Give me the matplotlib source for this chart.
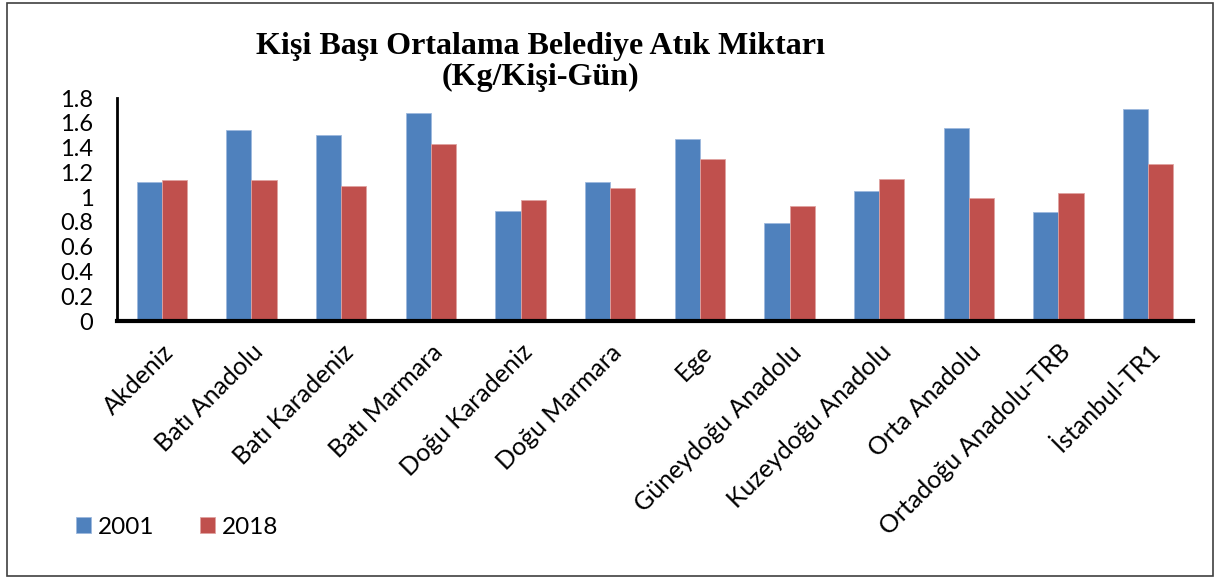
import matplotlib
matplotlib.use("Agg")
import matplotlib.pyplot as plt
import numpy as np
from matplotlib.patches import Rectangle

categories = ["Akdeniz", "Batı Anadolu", "Batı Karadeniz", "Batı Marmara",
              "Doğu Karadeniz", "Doğu Marmara", "Ege", "Güneydoğu Anadolu",
              "Kuzeydoğu Anadolu", "Orta Anadolu", "Ortadoğu Anadolu-TRB",
              "İstanbul-TR1"]
values_2001 = [1.12, 1.54, 1.50, 1.68, 0.89, 1.12, 1.47, 0.79, 1.05, 1.555, 0.88, 1.71]
values_2018 = [1.14, 1.14, 1.09, 1.43, 0.98, 1.07, 1.31, 0.93, 1.15, 0.99, 1.03, 1.27]
series_labels = ["2001", "2018"]
yticks = [0, 0.2, 0.4, 0.6, 0.8, 1, 1.2, 1.4, 1.6, 1.8]
ytick_labels = ["0", "0.2", "0.4", "0.6", "0.8", "1", "1.2", "1.4", "1.6", "1.8"]
title = "Kişi Başı Ortalama Belediye Atık Miktarı\n(Kg/Kişi-Gün)"

W, H = 1217, 579
fig = plt.figure(figsize=(W / 100, H / 100), dpi=100)
fig.patch.set_facecolor("white")

# outer frame
fig.add_artist(Rectangle((7 / W, 3 / H), (1213 - 7) / W, (576 - 3) / H,
                         transform=fig.transFigure, fill=False,
                         edgecolor="#404040", linewidth=1.2))

ax = fig.add_axes([117 / W, (H - 321) / H, (1193 - 117) / W, (321 - 98) / H])
x = np.arange(len(categories))
bw = 0.282
c1, c2 = "#4F81BD", "#C0504D"
ax.bar(x - bw / 2, values_2001, bw, color=c1, edgecolor="#9db9dd", linewidth=0.6,
       label=series_labels[0])
ax.bar(x + bw / 2, values_2018, bw, color=c2, edgecolor="#e0a3a1", linewidth=0.6,
       label=series_labels[1])

ax.set_xlim(-0.5, len(categories) - 0.5)
ax.set_ylim(0, 1.8)
ax.set_yticks(yticks)
ax.set_yticklabels(ytick_labels, fontsize=17, family="Lato")
ax.set_xticks(x)
ax.set_xticklabels(categories, rotation=45, ha="right", va="top",
                   rotation_mode="anchor", fontsize=18, family="Lato")
ax.tick_params(axis="y", length=0, pad=17)
ax.tick_params(axis="x", length=0, pad=14)
for s in ["top", "right"]:
    ax.spines[s].set_visible(False)
ax.spines["left"].set_linewidth(2)
ax.spines["bottom"].set_linewidth(3)

fig.text(540 / W, 1 - 62 / H, title, ha="center", va="center",
         fontsize=23, fontweight="bold", family="Liberation Serif", linespacing=1.1)

leg = fig.legend(loc="center left", bbox_to_anchor=(76 / W, 1 - 527 / H), ncol=2,
                 frameon=False, prop={"family": "Lato", "size": 17.5},
                 handlelength=0.62, handleheight=0.62, columnspacing=1.85,
                 handletextpad=0.3, borderpad=0, borderaxespad=0)

fig.savefig("out.png", dpi=100)
